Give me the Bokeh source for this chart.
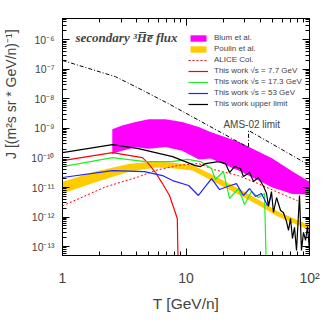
import math
from bokeh.plotting import figure
from bokeh.models import (LogAxis, FixedTicker, CustomJSTickFormatter, Legend, LegendItem,
                          Label, Range1d)
from bokeh.embed import file_html
from bokeh.resources import INLINE

# ---------------- data ----------------
blum_T = [2.53, 3.04, 3.9, 5.0, 6.82, 9.31, 12.7, 15.8, 26.6, 50.1, 72.8, 100]
blum_hi = [9.33e-10, 1.26e-9, 1.66e-9, 2.04e-9, 2.04e-9, 1.66e-9, 1.12e-9, 7.59e-10,
           3.55e-10, 9.55e-11, 3.47e-11, 1.58e-11]
blum_lo = [1.38e-10, 1.74e-10, 2.29e-10, 2.04e-10, 2.34e-10, 1.74e-10, 8.91e-11, 9.55e-11,
           3.80e-11, 1.0e-11, 6.03e-12, 5.75e-12]

poulin_T = [1, 1.85, 3.5, 5.7, 7.7, 11.3, 15.8, 26.6, 40, 55, 100]
poulin_hi = [1.58e-11, 3.47e-11, 6.31e-11, 7.59e-11, 7.08e-11, 5.62e-11, 2.95e-11, 9.33e-12,
             3.55e-12, 1.58e-12, 5.25e-13]
poulin_lo = [6.31e-12, 1.51e-11, 3.47e-11, 4.79e-11, 4.47e-11, 3.80e-11, 1.78e-11, 5.75e-12,
             2.34e-12, 1.07e-12, 3.55e-13]

alice_T = [1, 2.23, 4.12, 5.66, 8.69, 12.6, 17.1, 26.6, 38, 50, 68, 80]
alice_J = [2.40e-12, 1.05e-11, 2.29e-11, 3.80e-11, 5.62e-11, 6.46e-11, 3.98e-11, 2.51e-11,
           1.38e-11, 8.32e-12, 4.79e-12, 3.55e-12]

red_T = [1, 2.54, 4.44, 4.97, 5.66, 6.45, 7.35, 8.5, 8.67]
red_J = [8.17e-11, 1.52e-10, 1.03e-10, 6.47e-11, 3.21e-11, 1.36e-11, 5.37e-12, 8.97e-13, 1e-14]

green_T = [1, 2.54, 4.7, 7.6, 10.4, 13.1, 16.1, 17.3, 20.1, 22.5, 26.6, 29.8, 33.9, 38.6, 43.2, 44.9]
green_J = [5.12e-11, 1.03e-10, 7.56e-11, 7.56e-11, 8.9e-11, 7.56e-11, 4.38e-11, 1.86e-11,
           3.47e-11, 4.25e-12, 9.25e-12, 2.67e-12, 7.33e-12, 4.59e-12, 6.27e-12, 1e-14]

blue_T = [1, 2.54, 4.61, 6.45, 7.78, 10.5, 12.6, 16.1, 18.7, 21.7, 25.6, 29.2, 32.7, 36.5,
          40.8, 45.7, 49.2]
blue_J = [2.18e-11, 3.75e-11, 3.47e-11, 2.54e-11, 1.72e-11, 1.17e-11, 5.37e-12, 2.01e-11,
          8.55e-12, 1.08e-11, 1.36e-11, 5.37e-12, 9.25e-12, 4.97e-12, 6.27e-12, 2.47e-12, 5.37e-12]

black_T = [1, 2.54, 4.12, 7.78, 11.9, 13.1, 14.4, 18.3, 20.9, 22.5, 24.7, 27.6, 29.2, 32.7,
           35.2, 38.6, 42.5, 44.9, 46.6, 49.2, 51.1, 54.1, 58.3, 61.5, 65.1, 67.6, 70.2,
           72.8, 75.6, 78.5, 83.0, 86.1, 89.4, 92.9, 96.4, 100]
black_J = [1.52e-10, 2.84e-10, 2.08e-10, 1.11e-10, 5.53e-11, 5.12e-11, 6.47e-11, 7.56e-11,
           6.47e-11, 3.21e-11, 5.12e-11, 4.38e-11, 2.35e-11, 3.21e-11, 1.60e-11, 2.18e-11,
           1.08e-11, 6.27e-12, 2.28e-12, 7.33e-12, 1.43e-12, 4.59e-12, 1.67e-12, 1.43e-12,
           7.10e-13, 3.52e-13, 8.97e-13, 1.89e-13, 4.46e-13, 7.45e-14, 5.37e-12, 7.45e-14,
           3.02e-13, 1.62e-13, 4.81e-13, 7.45e-14]

ams_T = [1, 2.69, 4.5, 7.2, 32.1, 32.1, 100]
ams_J = [2.0e-7, 5.62e-8, 1.91e-8, 6.92e-9, 2.24e-10, 8.51e-10, 5.62e-11]

x_major = [1, 10, 100]
y_major = [1e-13, 1e-12, 1e-11, 1e-10, 1e-9, 1e-8, 1e-7, 1e-6]

x_label = "T [GeV/n]"
y_label = "J [(m\u00b2s sr * GeV/n)\u207b\u00b9]"
legend_labels = ["Blum et al.", "Poulin et al.", "ALICE Col.",
                 "This work \u221as = 7.7 GeV", "This work \u221as = 17.3 GeV",
                 "This work \u221as = 53 GeV", "This work upper limit"]

# ---------------- figure ----------------
FONT = "Liberation Sans"
p = figure(x_axis_type="log", y_axis_type="log",
           x_range=Range1d(1, 100), y_range=Range1d(5.0e-14, 5.25e-6),
           frame_width=247, frame_height=237,
           min_border_left=57, min_border_right=20, min_border_top=18, min_border_bottom=58,
           output_backend="svg", toolbar_location=None)
p.outline_line_color = "black"
p.outline_line_width = 1
p.xgrid.visible = False
p.ygrid.visible = False
p.background_fill_color = "white"
p.border_fill_color = "white"

x_minor = [m * 10 ** e for e in range(0, 2) for m in range(2, 10)]
y_minor = [m * 10 ** e for e in range(-14, -5) for m in range(2, 10)]
xt = FixedTicker(ticks=x_major, minor_ticks=x_minor)
yt = FixedTicker(ticks=y_major, minor_ticks=y_minor)

fmt = CustomJSTickFormatter(code="""
const sup = {'-':'\u207b','0':'\u2070','1':'\u00b9','2':'\u00b2','3':'\u00b3','4':'\u2074',
             '5':'\u2075','6':'\u2076','7':'\u2077','8':'\u2078','9':'\u2079'};
const e = Math.round(Math.log10(tick));
if (e == 0) return '1';
if (e == 1) return '10';
return '10' + String(e).split('').map(c => sup[c]).join('');
""")
blank = CustomJSTickFormatter(code="return '';")

def style(ax, ticker, formatter, size, standoff):
    ax.ticker = ticker
    ax.formatter = formatter
    ax.axis_line_color = "black"
    ax.major_tick_in = 7
    ax.major_tick_out = 0
    ax.minor_tick_in = 4
    ax.minor_tick_out = 0
    ax.major_tick_line_color = "black"
    ax.minor_tick_line_color = "black"
    ax.major_label_text_font = FONT
    ax.major_label_text_font_size = size
    ax.major_label_standoff = standoff

xa = p.xaxis[0]
ya = p.yaxis[0]
style(xa, xt, fmt, "14px", 14)
style(ya, yt, fmt, "10.5px", 8)
xa.axis_label = x_label
xa.axis_label_text_font = FONT
xa.axis_label_text_font_size = "15.5px"
xa.axis_label_text_font_style = "normal"
xa.axis_label_standoff = 6
# leading no-break spaces shift the centred title towards the top, as in the reference
ya.axis_label = "\u00a0" * 22 + y_label
ya.axis_label_text_font = FONT
ya.axis_label_text_font_size = "14px"
ya.axis_label_text_font_style = "normal"
ya.axis_label_standoff = 9

top_ax = LogAxis()
right_ax = LogAxis()
style(top_ax, xt, blank, "0px", 0)
style(right_ax, yt, blank, "0px", 0)
p.add_layout(top_ax, "above")
p.add_layout(right_ax, "right")

# ---------------- glyphs ----------------
r_blum = p.varea(x=blum_T, y1=blum_lo, y2=blum_hi, fill_color="#ff00ff")
r_poulin = p.varea(x=poulin_T, y1=poulin_lo, y2=poulin_hi, fill_color="#ffcc00")
r_alice = p.line(alice_T, alice_J, line_color="#ff0000", line_dash="2 2", line_width=1)
r_red = p.line(red_T, red_J, line_color="#ff0000", line_width=1.2)
r_green = p.line(green_T, green_J, line_color="#22ee22", line_width=1.2)
r_blue = p.line(blue_T, blue_J, line_color="#2222ff", line_width=1.2)
r_black = p.line(black_T, black_J, line_color="black", line_width=1.2)
r_ams = p.line(ams_T, ams_J, line_color="black", line_dash="4 2 1 2", line_width=1)

legend = Legend(items=[LegendItem(label=l, renderers=[r]) for l, r in zip(
    legend_labels, [r_blum, r_poulin, r_alice, r_red, r_green, r_blue, r_black])],
    location=(126, 146))
legend.background_fill_alpha = 0
legend.border_line_color = None
legend.margin = 0
legend.padding = 0
legend.spacing = 0
legend.label_text_font = FONT
legend.label_text_font_size = "8px"
legend.glyph_width = 20
legend.glyph_height = 8
legend.label_height = 11
legend.label_standoff = 6
p.add_layout(legend)

# ---------------- texts ----------------
p.add_layout(Label(x=1.274, y=1.15e-6, text="secondary  \u00b3H\u0305e\u0305 flux",
                   text_font="Liberation Serif", text_font_style="bold italic",
                   text_font_size="13px", text_baseline="middle", text_align="left"))
p.add_layout(Label(x=20.1, y=1.35e-9, text="AMS-02 limit", text_font=FONT,
                   text_font_size="10px", text_baseline="middle", text_align="left"))

open("out.html", "w").write(file_html(p, INLINE))
